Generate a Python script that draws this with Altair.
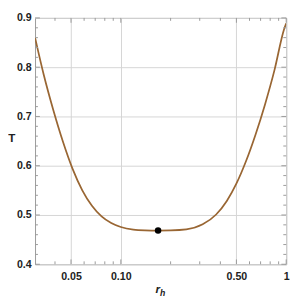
import altair as alt
import pandas as pd

# curve (r_h, T)
r_vals = [0.0303, 0.0342, 0.0391, 0.0447, 0.0511, 0.0585, 0.0669, 0.0765, 0.0875,
          0.100, 0.119, 0.140, 0.168, 0.2006, 0.249, 0.3127, 0.377, 0.4374,
          0.4996, 0.5704, 0.6514, 0.7438, 0.8493, 0.9698, 1.0]
T_vals = [0.860, 0.7846, 0.7126, 0.6486, 0.5936, 0.5501, 0.5186, 0.4971, 0.4836,
          0.4756, 0.4704, 0.4689, 0.4685, 0.4688, 0.4708, 0.481, 0.501, 0.5285,
          0.5635, 0.6085, 0.6625, 0.724, 0.794, 0.8765, 0.889]

min_r = [0.168]
min_T = [0.4685]

x_major = [0.05, 0.1, 0.5, 1.0]
x_minor = [0.04, 0.06, 0.07, 0.08, 0.09, 0.2, 0.3, 0.4, 0.6, 0.7, 0.8, 0.9]
y_major = [0.4, 0.5, 0.6, 0.7, 0.8, 0.9]
y_minor = [0.42, 0.44, 0.46, 0.48, 0.52, 0.54, 0.56, 0.58, 0.62, 0.64, 0.66, 0.68,
           0.72, 0.74, 0.76, 0.78, 0.82, 0.84, 0.86, 0.88]

W, H = 260, 255
TOP = 5
xs = alt.Scale(type="log", domain=[0.0303, 1.0], nice=False)
ys = alt.Scale(domain=[0.4, 0.9], nice=False, zero=False)

x_axis = alt.Axis(
    values=x_major, title=None, grid=True, ticks=False, domain=False,
    labelExpr="datum.value == 1 ? '1' : format(datum.value, '.2f')",
    labelPadding=7, labelFlush=False)
y_axis = alt.Axis(
    values=y_major, title=None, grid=True, ticks=False, domain=False,
    format=".1f", labelPadding=4)

curve_df = pd.DataFrame({"r": r_vals, "T": T_vals})
pt_df = pd.DataFrame({"r": min_r, "T": min_T})

curve = alt.Chart(curve_df).mark_line(
    color="#996633", strokeWidth=1.8, interpolate="monotone", clip=True
).encode(
    x=alt.X("r:Q", scale=xs, axis=x_axis, title=None),
    y=alt.Y("T:Q", scale=ys, axis=y_axis, title=None),
)

point = alt.Chart(pt_df).mark_circle(color="black", size=45, opacity=1).encode(
    x=alt.X("r:Q", scale=xs, axis=x_axis, title=None),
    y=alt.Y("T:Q", scale=ys, axis=y_axis, title=None),
)

TICK = "#999999"

def yticks(vals, length):
    df = pd.DataFrame({"T": vals})
    left = alt.Chart(df).mark_rule(color=TICK, strokeWidth=1).encode(
        y=alt.Y("T:Q", scale=ys, axis=y_axis, title=None),
        x=alt.value(0), x2=alt.value(length))
    right = alt.Chart(df).mark_rule(color=TICK, strokeWidth=1).encode(
        y=alt.Y("T:Q", scale=ys, axis=y_axis, title=None),
        x=alt.value(W), x2=alt.value(W - length))
    return [left, right]

def xticks(vals, length):
    df = pd.DataFrame({"r": vals})
    bottom = alt.Chart(df).mark_rule(color=TICK, strokeWidth=1).encode(
        x=alt.X("r:Q", scale=xs, axis=x_axis, title=None),
        y=alt.value(H), y2=alt.value(H - length))
    top = alt.Chart(df).mark_rule(color=TICK, strokeWidth=1).encode(
        x=alt.X("r:Q", scale=xs, axis=x_axis, title=None),
        y=alt.value(0), y2=alt.value(length))
    return [bottom, top]

t_label = alt.Chart(pd.DataFrame({"t": ["T"]})).mark_text(
    font="Liberation Sans", fontSize=12, fontWeight="bold", color="#222222"
).encode(text="t:N", x=alt.value(-24), y=alt.value(124))

r_label = alt.Chart(pd.DataFrame({"t": ["r"]})).mark_text(
    font="Liberation Sans", fontSize=12, fontWeight="bold", fontStyle="italic", color="#222222"
).encode(text="t:N", x=alt.value(127), y=alt.value(281))

h_label = alt.Chart(pd.DataFrame({"t": ["h"]})).mark_text(
    font="Liberation Sans", fontSize=9, fontWeight="bold", fontStyle="italic", color="#222222"
).encode(text="t:N", x=alt.value(132), y=alt.value(285))

layers = [curve] + yticks(y_minor, 3) + yticks(y_major, 5) + xticks(x_minor, 3) \
    + xticks(x_major, 5) + [point, t_label, r_label, h_label]

chart = alt.layer(*layers).properties(
    width=W, height=H,
    autosize=alt.AutoSizeParams(type="none"),
    padding={"left": 28, "top": TOP, "right": 6, "bottom": 40},
).configure_view(
    stroke="#999999", strokeWidth=1
).configure_axis(
    gridColor="#d4d4d4", gridWidth=1,
    labelFont="Liberation Sans", labelFontSize=11, labelFontWeight="bold",
    labelColor="#222222",
)

chart.save("out.html", embed_options={"renderer": "svg", "actions": False})
